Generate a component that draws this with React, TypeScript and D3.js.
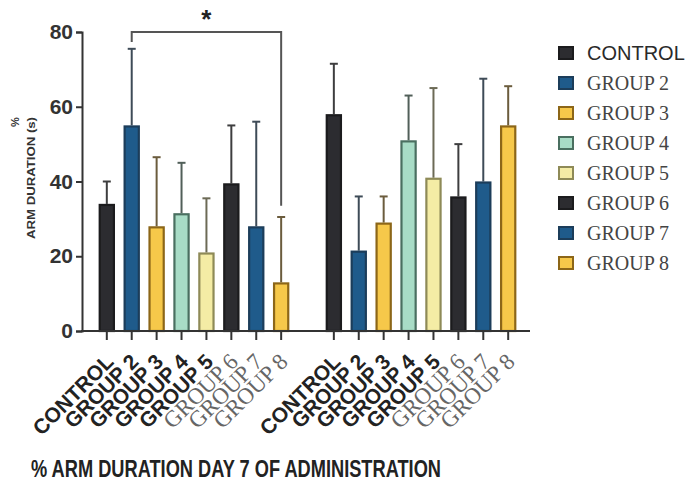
import React, { useEffect, useRef } from "react";
import * as d3 from "d3";

const groups = ["CONTROL", "GROUP 2", "GROUP 3", "GROUP 4", "GROUP 5", "GROUP 6", "GROUP 7", "GROUP 8"];
const days = ["A", "B"];
// mean and upper error (mean + sd) per group, for each block
const meansA = [34, 55, 28, 31.5, 21, 39.5, 28, 13];
const upperA = [40, 75.5, 46.5, 45, 35.5, 55, 56, 30.5];
const meansB = [58, 21.5, 29, 51, 41, 36, 40, 55];
const upperB = [71.5, 36, 36, 63, 65, 50, 67.5, 65.5];
const yTicks = [0, 20, 40, 60, 80];

const fills = ["#2c2c30", "#1f5b8b", "#f6c84a", "#a8dcc6", "#f4eca5", "#2c2c30", "#1f5b8b", "#f6c84a"];
const strokes = ["#1b1b1d", "#1c3d5a", "#8c6618", "#4a6f60", "#8e8a57", "#1b1b1d", "#1c3d5a", "#8c6618"];
const boldLabel = [true, true, true, true, true, false, false, false];

// significance bracket: GROUP 2 vs GROUP 8 in first block
const sigLevel = 80;
const sigLeftEnd = 77.3;
const sigRightEnd = 33.5;

const App = () => {
  const ref = useRef<SVGSVGElement>(null);

  useEffect(() => {
    const svg = d3.select(ref.current);
    svg.selectAll("*").remove();

    const y = d3.scaleLinear().domain([0, 80]).range([331, 32]);
    const outer = d3.scaleBand().domain(days).range([90, 525]).paddingInner(0.084);
    const inner = d3.scaleBand().domain(groups).range([0, outer.bandwidth()]).padding(0.35);

    const data = [
      ...groups.map((g, i) => ({ day: "A", g, i, mean: meansA[i], up: upperA[i] })),
      ...groups.map((g, i) => ({ day: "B", g, i, mean: meansB[i], up: upperB[i] })),
    ];
    const cx = (d: any) => (outer(d.day) as number) + (inner(d.g) as number) + inner.bandwidth() / 2;
    const errColor = (i: number) => d3.interpolateRgb(strokes[i], "#555")(0.6);

    // error bars (upper only)
    const eb = svg.append("g");
    eb.selectAll("line.v").data(data).join("line")
      .attr("x1", cx).attr("x2", cx)
      .attr("y1", d => y(d.mean)).attr("y2", d => y(d.up))
      .attr("stroke", d => errColor(d.i))
      .attr("stroke-width", 2);
    eb.selectAll("line.c").data(data).join("line")
      .attr("x1", d => cx(d) - 4).attr("x2", d => cx(d) + 4)
      .attr("y1", d => y(d.up)).attr("y2", d => y(d.up))
      .attr("stroke", d => errColor(d.i))
      .attr("stroke-width", 2);

    // bars
    svg.append("g").selectAll("rect").data(data).join("rect")
      .attr("x", d => cx(d) - inner.bandwidth() / 2 + 1)
      .attr("width", inner.bandwidth() - 2)
      .attr("y", d => y(d.mean) + 1)
      .attr("height", d => y(0) - y(d.mean) - 1)
      .attr("fill", d => fills[d.i])
      .attr("stroke", d => strokes[d.i])
      .attr("stroke-width", 2.2);

    // axes
    const axY = svg.append("g").attr("transform", "translate(82,0)")
      .call(d3.axisLeft(y).tickValues(yTicks).tickSize(6).tickPadding(3));
    axY.select(".domain").attr("stroke", "#333").attr("stroke-width", 2);
    axY.selectAll(".tick line").attr("stroke", "#333").attr("stroke-width", 2);
    axY.selectAll(".tick text")
      .attr("font-family", "Liberation Sans, Arial, sans-serif")
      .attr("font-weight", "bold").attr("font-size", 21).attr("fill", "#333");

    svg.append("line").attr("x1", 81).attr("x2", 530).attr("y1", y(0)).attr("y2", y(0))
      .attr("stroke", "#333").attr("stroke-width", 2);

    const xl = svg.append("g");
    xl.selectAll("line").data(data).join("line")
      .attr("x1", cx).attr("x2", cx).attr("y1", y(0)).attr("y2", y(0) + 9)
      .attr("stroke", "#333").attr("stroke-width", 2);
    xl.selectAll("text").data(data).join("text")
      .attr("transform", d => `translate(${cx(d) + 8},${y(0) + 32}) rotate(-45)`)
      .attr("text-anchor", "end")
      .attr("font-family", d => boldLabel[d.i] ? "Liberation Sans, Arial, sans-serif" : "Liberation Serif, Times New Roman, serif")
      .attr("font-weight", d => boldLabel[d.i] ? "bold" : "normal")
      .attr("font-size", d => boldLabel[d.i] ? 21 : 23)
      .attr("fill", d => boldLabel[d.i] ? "#222" : "#666")
      .text(d => d.g);

    // y label
    svg.append("text")
      .attr("transform", "translate(19,122) rotate(-90)")
      .attr("text-anchor", "middle")
      .attr("font-family", "Liberation Sans, Arial, sans-serif")
      .attr("font-size", 11).attr("font-weight", "bold").attr("fill", "#333")
      .text("%");
    svg.append("text")
      .attr("transform", "translate(35,178) rotate(-90)")
      .attr("text-anchor", "middle")
      .attr("font-family", "Liberation Sans, Arial, sans-serif")
      .attr("font-size", 11).attr("font-weight", "bold").attr("fill", "#333")
      .attr("textLength", 122).attr("lengthAdjust", "spacingAndGlyphs")
      .text("ARM DURATION (s)");

    // significance bracket
    const xa = cx({ day: "A", g: "GROUP 2" });
    const xb = cx({ day: "A", g: "GROUP 8" });
    svg.append("path")
      .attr("d", `M${xa},${y(sigLeftEnd)}V${y(sigLevel)}H${xb}V${y(sigRightEnd)}`)
      .attr("fill", "none").attr("stroke", "#555").attr("stroke-width", 2);
    svg.append("text")
      .attr("x", (xa + xb) / 2).attr("y", 28)
      .attr("text-anchor", "middle")
      .attr("font-family", "Liberation Sans, Arial, sans-serif")
      .attr("font-weight", "bold").attr("font-size", 26).attr("fill", "#222")
      .text("*");

    // legend
    const lg = svg.append("g").attr("transform", "translate(558,46)");
    const rows = lg.selectAll("g").data(groups).join("g")
      .attr("transform", (d, i) => `translate(0,${i * 30})`);
    rows.append("rect")
      .attr("x", 1).attr("y", 1).attr("width", 14).attr("height", 12)
      .attr("fill", (d, i) => fills[i]).attr("stroke", (d, i) => strokes[i]).attr("stroke-width", 2);
    rows.append("text")
      .attr("x", 29).attr("y", 14)
      .attr("font-family", (d, i) => i === 0 ? "Liberation Sans, Arial, sans-serif" : "Liberation Serif, Times New Roman, serif")
      .attr("font-size", 20)
      .attr("fill", (d, i) => i === 0 ? "#2a2a2a" : "#444")
      .text(d => d);

    // title
    svg.append("text")
      .attr("x", 31).attr("y", 477)
      .attr("font-family", "Liberation Sans, Arial, sans-serif")
      .attr("font-weight", "bold").attr("font-size", 23).attr("fill", "#222")
      .attr("textLength", 410).attr("lengthAdjust", "spacingAndGlyphs")
      .text("% ARM DURATION DAY 7 OF ADMINISTRATION");
  }, []);

  return (
    <svg ref={ref} width={691} height={485}
      style={{ position: "absolute", left: 0, top: 0, background: "#fff" }} />
  );
};

export default App;
